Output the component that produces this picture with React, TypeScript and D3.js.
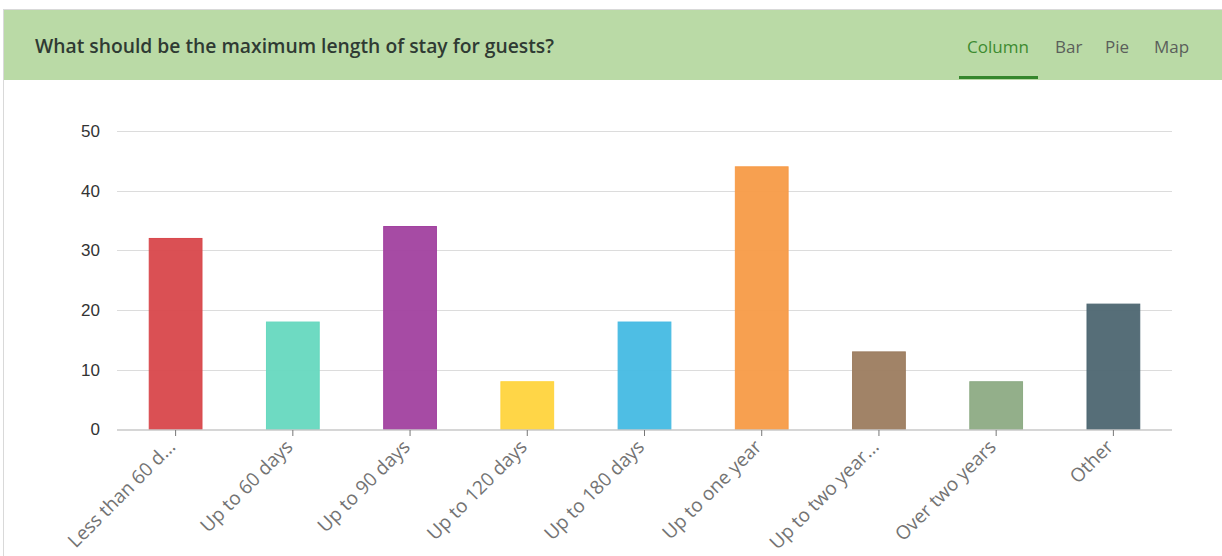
import React, { useEffect, useRef } from "react";
import { select, scaleBand, scaleLinear, axisBottom, axisLeft } from "d3";

const categories = [
  "Less than 60 d...",
  "Up to 60 days",
  "Up to 90 days",
  "Up to 120 days",
  "Up to 180 days",
  "Up to one year",
  "Up to two year...",
  "Over two years",
  "Other",
];
const counts = [32, 18, 34, 8, 18, 44, 13, 8, 21];
const colors = ["#d8474b", "#66d8bf", "#a1419f", "#ffd43d", "#45bae3", "#f79b47", "#9c7c5f", "#8dab84", "#4d6671"];
const yTicks = [0, 10, 20, 30, 40, 50];
const tabs = ["Column", "Bar", "Pie", "Map"];

const W = 1222;
const H = 556;

const App = () => {
  const svgRef = useRef(null);

  useEffect(() => {
    const svg = select(svgRef.current);
    svg.selectAll("*").remove();

    // card + header
    svg.append("rect").attr("x", 3.5).attr("y", 9.5).attr("width", W).attr("height", H)
      .attr("fill", "#fff").attr("stroke", "#d9d9d9");
    svg.append("rect").attr("x", 4).attr("y", 10).attr("width", W).attr("height", 70).attr("fill", "#badaa6");
    svg.append("text").attr("x", 35).attr("y", 53)
      .attr("font-family", "'Open Sans', sans-serif").attr("font-size", 19.3).attr("font-weight", 600)
      .attr("fill", "#2f3a33")
      .text("What should be the maximum length of stay for guests?");

    const tabX = [967, 1055, 1105, 1154];
    tabs.forEach((t, i) => {
      svg.append("text").attr("x", tabX[i]).attr("y", 53)
        .attr("font-family", "'Open Sans', sans-serif").attr("font-size", 17)
        .attr("fill", i === 0 ? "#3d8b30" : "#5b5f5b")
        .text(t);
    });
    svg.append("rect").attr("x", 959).attr("y", 76).attr("width", 79).attr("height", 3).attr("fill", "#35862c");

    // chart
    const x = scaleBand().domain(categories).range([117, 1172]).paddingInner(0.55).paddingOuter(0.275);
    const y = scaleLinear().domain([0, 50]).range([429.5, 131]);

    const grid = svg.append("g");
    grid.selectAll("line").data(yTicks.slice(1)).join("line")
      .attr("x1", 117).attr("x2", 1172)
      .attr("y1", (d) => Math.round(y(d)) + 0.5).attr("y2", (d) => Math.round(y(d)) + 0.5)
      .attr("stroke", "#dcdcdc").attr("stroke-width", 1);

    svg.append("g").selectAll("rect").data(counts).join("rect")
      .attr("x", (d, i) => x(categories[i]))
      .attr("y", (d) => y(d))
      .attr("width", x.bandwidth())
      .attr("height", (d) => y(0) - y(d))
      .attr("fill", (d, i) => colors[i])
      .attr("fill-opacity", 0.95)
      .attr("stroke", (d, i) => colors[i]);

    const yAxis = axisLeft(y).tickValues(yTicks).tickSize(0).tickPadding(17);
    const gy = svg.append("g").attr("transform", "translate(117,0)").call(yAxis);
    gy.select(".domain").remove();
    gy.selectAll("text").attr("font-family", "'Liberation Sans', Arial, sans-serif").attr("font-size", 17).attr("fill", "#333");

    const xAxis = axisBottom(x).tickSize(6).tickSizeOuter(0);
    const gx = svg.append("g").attr("transform", "translate(0,430)").call(xAxis);
    gx.select(".domain").attr("stroke", "#c8c8c8").attr("stroke-width", 1.5)
      .attr("d", "M117,0H1172");
    gx.selectAll(".tick line").attr("stroke", "#777");
    gx.selectAll("text")
      .attr("font-family", "'Open Sans', 'Noto Sans', sans-serif").attr("font-size", 19).attr("fill", "#737373")
      .attr("text-anchor", "end")
      .attr("x", 0).attr("y", 0).attr("dy", 0)
      .attr("transform", "translate(1,18) rotate(-45)");
  }, []);

  return (
    <svg
      ref={svgRef}
      width={W}
      height={H}
      style={{ position: "absolute", left: 0, top: 0, background: "#fff" }}
    />
  );
};

export default App;
